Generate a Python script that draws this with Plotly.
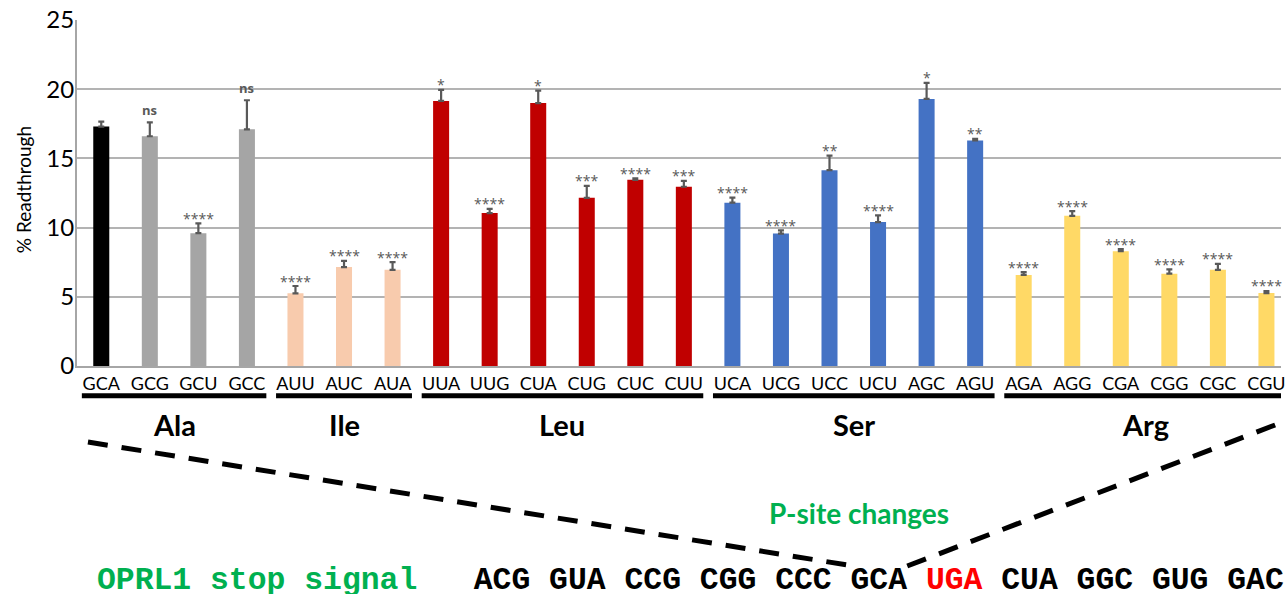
import plotly.graph_objects as go

# ---------------- data ----------------
codons = ["GCA", "GCG", "GCU", "GCC",
          "AUU", "AUC", "AUA",
          "UUA", "UUG", "CUA", "CUG", "CUC", "CUU",
          "UCA", "UCG", "UCC", "UCU", "AGC", "AGU",
          "AGA", "AGG", "CGA", "CGG", "CGC", "CGU"]
readthrough = [17.3, 16.6, 9.6, 17.1,
               5.25, 7.15, 6.95,
               19.15, 11.05, 19.0, 12.15, 13.45, 12.95,
               11.8, 9.57, 14.15, 10.4, 19.3, 16.3,
               6.58, 10.85, 8.3, 6.67, 6.95, 5.27]
errors = [0.35, 1.0, 0.7, 2.1,
          0.53, 0.45, 0.55,
          0.8, 0.3, 0.9, 0.87, 0.1, 0.43,
          0.36, 0.23, 1.05, 0.48, 1.15, 0.12,
          0.2, 0.34, 0.14, 0.31, 0.43, 0.15]
significance = ["", "ns", "****", "ns",
                "****", "****", "****",
                "*", "****", "*", "***", "****", "***",
                "****", "****", "**", "****", "*", "**",
                "****", "****", "****", "****", "****", "****"]
groups = ["Ala", "Ile", "Leu", "Ser", "Arg"]
group_start = [0, 4, 7, 13, 19]
group_end = [3, 6, 12, 18, 24]
group_colors = ["#A5A5A5", "#F8CBAD", "#C00000", "#4472C4", "#FFD966"]
reference_color = "#000000"
sequence_label = "OPRL1 stop signal"
sequence_before = ["ACG", "GUA", "CCG", "CGG", "CCC", "GCA"]
stop_codon = "UGA"
sequence_after = ["CUA", "GGC", "GUG", "GAC"]

# ---------------- layout geometry (pixels) ----------------
W, H = 1285, 594
ML, MR, MT, MB = 77, 0, 20, 228
PW, PH = W - ML - MR, H - MT - MB


def px_x(p):
    return (p - ML) / PW


def px_y(p):
    return (H - MB - p) / PH


colors = []
for gi, (s, e) in enumerate(zip(group_start, group_end)):
    for i in range(s, e + 1):
        colors.append(group_colors[gi])
colors[0] = reference_color

sans = "Lato"
fig = go.Figure()
fig.add_trace(go.Bar(
    x=codons, y=readthrough, width=0.33,
    marker=dict(color=colors, line=dict(width=0)),
    error_y=dict(type="data", array=errors, arrayminus=[0] * len(errors),
                 symmetric=False, color="#595959", thickness=2.2, width=3),
    showlegend=False,
))

annotations = []
for c, v, e, s in zip(codons, readthrough, errors, significance):
    if not s:
        continue
    is_ns = s == "ns"
    annotations.append(dict(
        x=c, y=v + e, xref="x", yref="y", text=("<b>%s</b>" % s) if is_ns else s,
        showarrow=False, xanchor="center", yanchor="middle", yshift=12 if is_ns else 5,
        font=dict(family="Open Sans", size=13 if is_ns else 14, color="#595959"),
    ))

shapes = []
for g, s, e in zip(groups, group_start, group_end):
    shapes.append(dict(type="line", xref="x", yref="paper",
                       x0=s - 0.4, x1=e + 0.4, y0=px_y(395.7), y1=px_y(395.7),
                       line=dict(color="black", width=5)))
    annotations.append(dict(x=(s + e) / 2, y=px_y(425), xref="x", yref="paper",
                            text="<b>%s</b>" % g, showarrow=False,
                            xanchor="center", yanchor="middle",
                            font=dict(family=sans, size=29, color="black")))

# dashed guide lines
shapes.append(dict(type="line", xref="paper", yref="paper",
                   x0=px_x(88), y0=px_y(442), x1=px_x(856), y1=px_y(566),
                   line=dict(color="black", width=5, dash="20px,14px")))
shapes.append(dict(type="line", xref="paper", yref="paper",
                   x0=px_x(910), y0=px_y(566), x1=px_x(1300), y1=px_y(417),
                   line=dict(color="black", width=5, dash="20px,14px")))

annotations.append(dict(x=px_x(862), y=px_y(513), xref="paper", yref="paper",
                        text="<b>P-site changes</b>", showarrow=False,
                        xanchor="center", yanchor="middle",
                        font=dict(family=sans, size=28, color="#00B050")))

nb = "\u00a0"
seq_text = ("<span style='color:#00B050'>%s</span>" % sequence_label.replace(" ", nb)
            + nb * 3 + nb.join(sequence_before) + nb
            + "<span style='color:#FF0000'>%s</span>" % stop_codon + nb
            + nb.join(sequence_after))
annotations.append(dict(x=px_x(95), y=px_y(580), xref="paper", yref="paper",
                        text="<b>%s</b>" % seq_text, showarrow=False,
                        xanchor="left", yanchor="middle",
                        font=dict(family="Liberation Mono", size=31.4, color="black")))

annotations.append(dict(x=px_x(23), y=px_y(190), xref="paper", yref="paper",
                        text="% Readthrough", showarrow=False, textangle=-90,
                        xanchor="center", yanchor="middle",
                        font=dict(family=sans, size=19, color="black")))

fig.update_layout(
    width=W, height=H,
    margin=dict(l=ML, r=MR, t=MT, b=MB, pad=0),
    paper_bgcolor="white", plot_bgcolor="white",
    bargap=0.67,
    annotations=annotations, shapes=shapes,
    font=dict(family=sans, color="black"),
)
fig.update_xaxes(range=[-0.5, 24.3], showline=True, linecolor="#A6A6A6", linewidth=2,
                 ticks="", tickfont=dict(family=sans, size=18, color="black"),
                 showgrid=False, ticklabelstandoff=0)
fig.update_yaxes(range=[0, 25], dtick=5, showgrid=True, gridcolor="#B3B3B3", gridwidth=1.5,
                 showline=True, linecolor="#A6A6A6", linewidth=2, zeroline=False,
                 ticks="", tickfont=dict(family=sans, size=24, color="black"),
                 ticklabelstandoff=-4)

fig.write_html("out.html", config={"displayModeBar": False},
               post_script="document.body.style.margin='0px';"
                           "document.body.style.overflow='hidden';")
